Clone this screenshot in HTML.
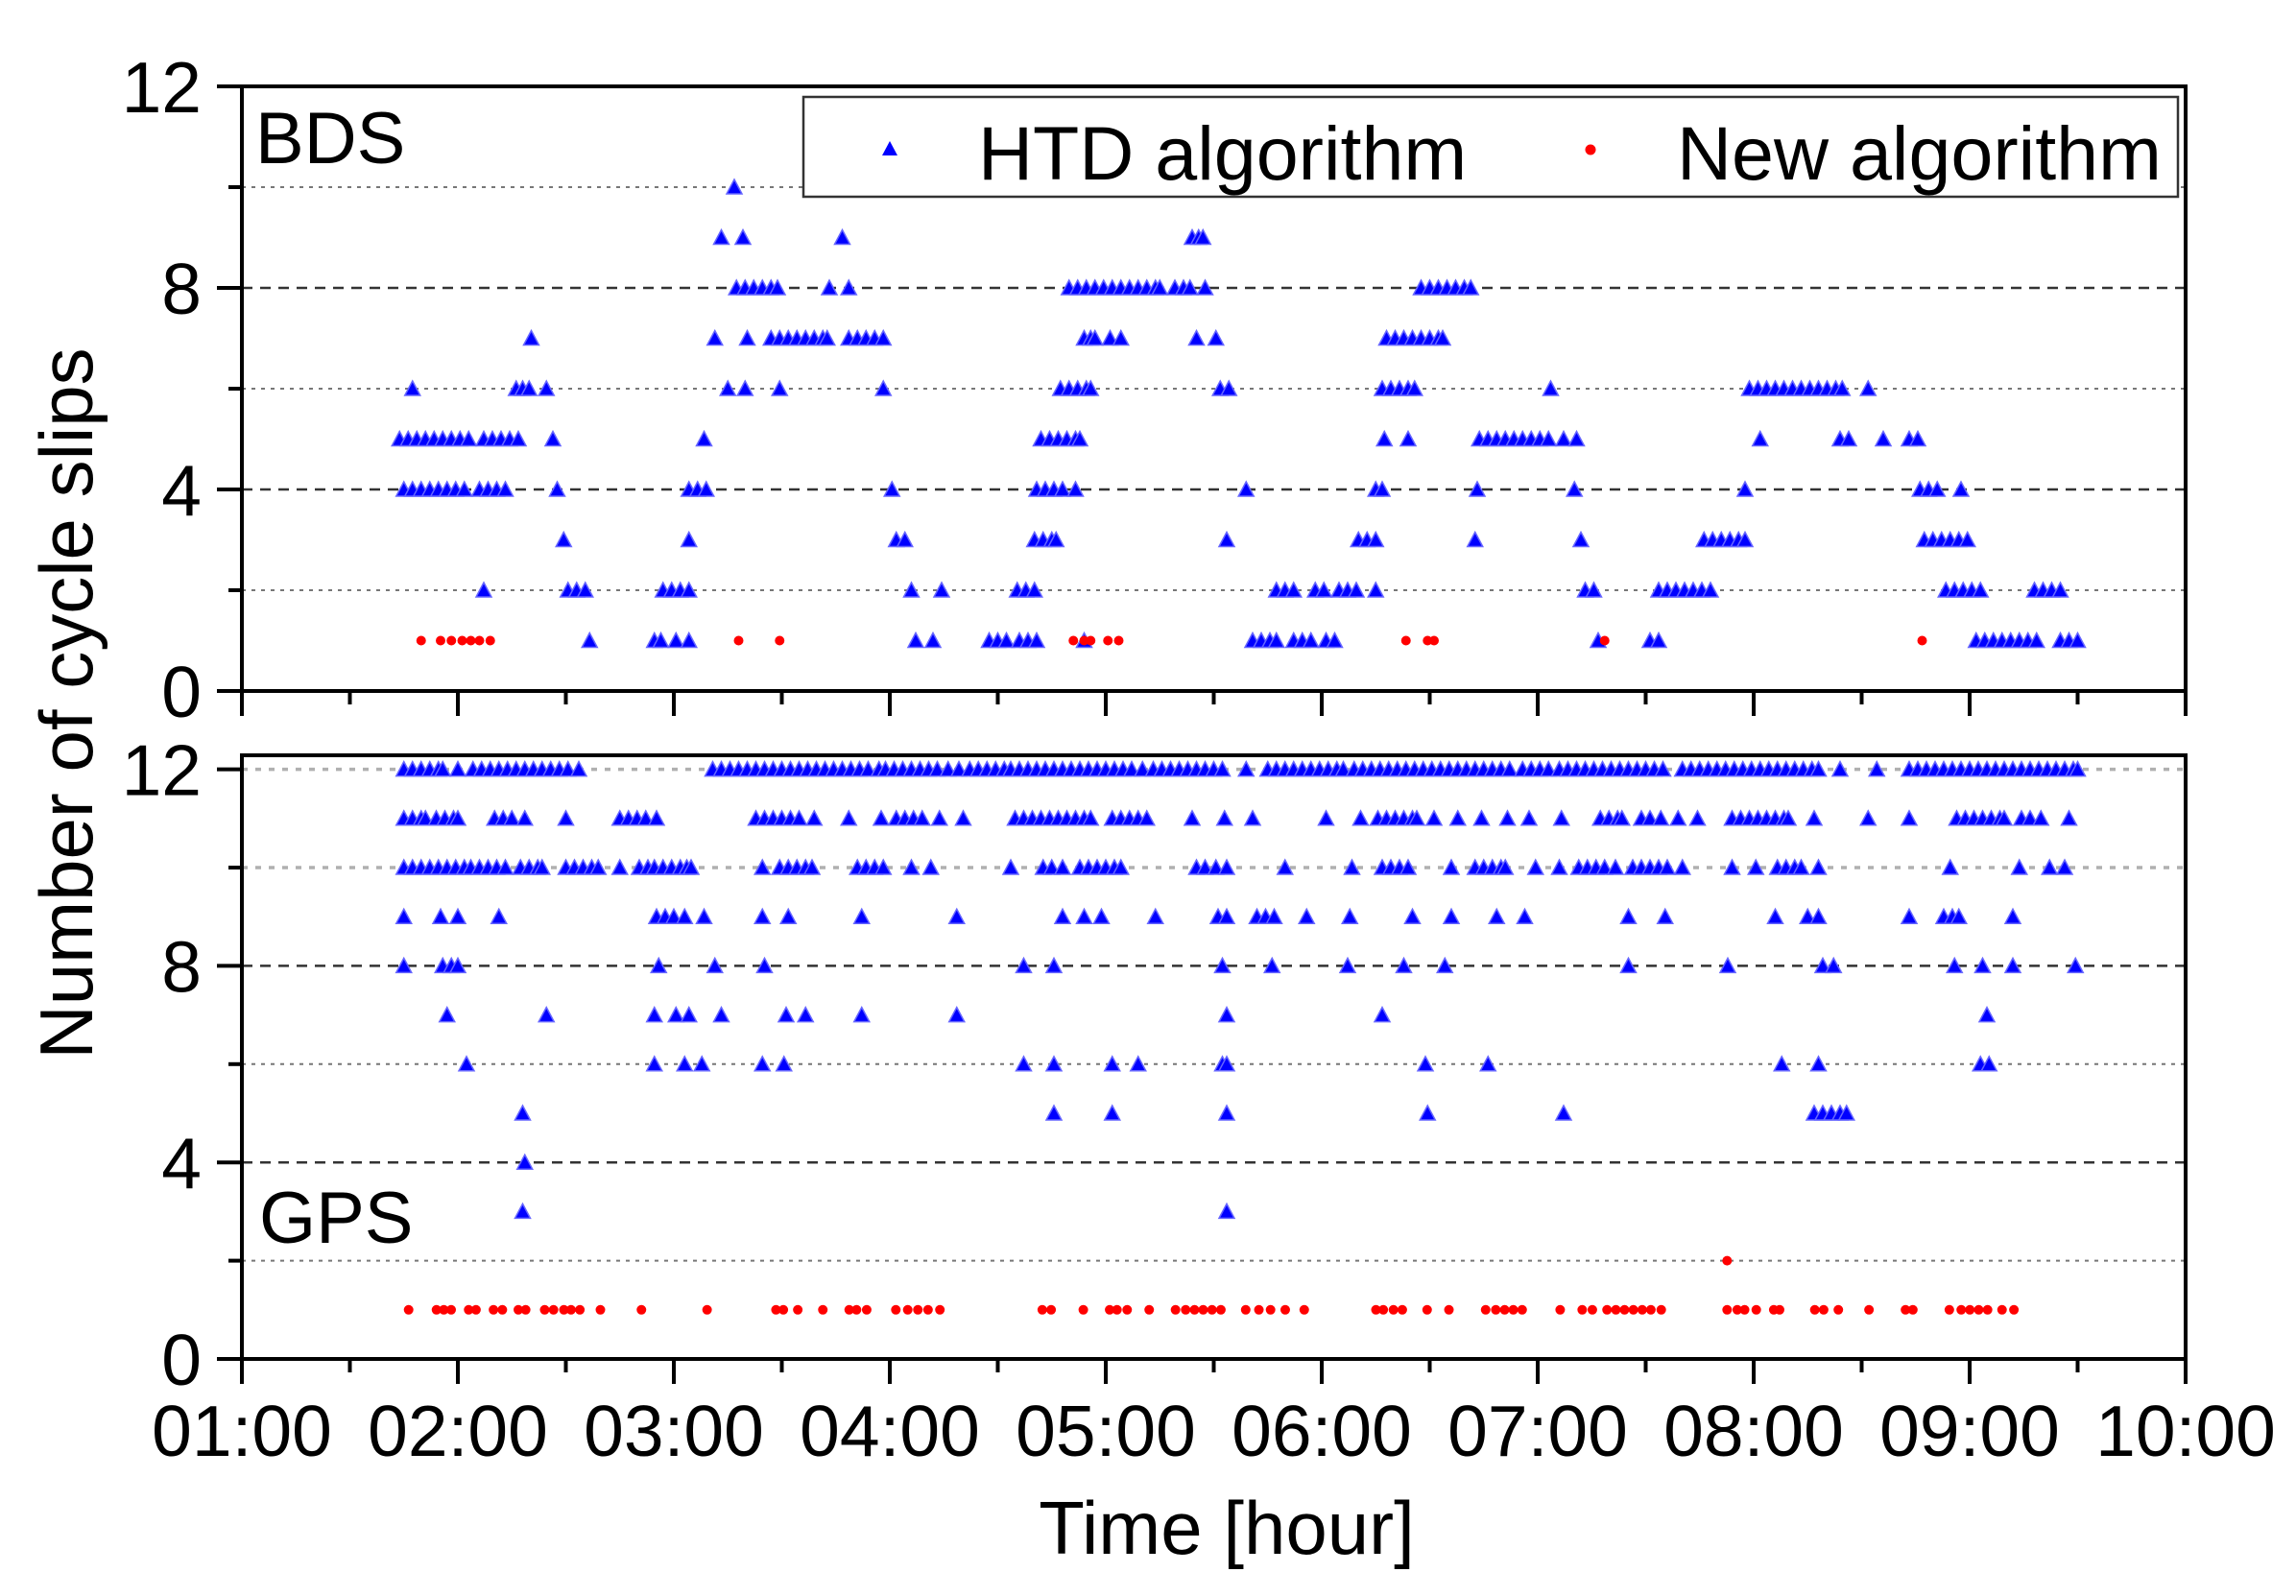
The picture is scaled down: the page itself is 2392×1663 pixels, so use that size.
<!DOCTYPE html>
<html><head><meta charset="utf-8"><style>
html,body{margin:0;padding:0;background:#fff;}
svg{display:block;font-family:"Liberation Sans",Arial,sans-serif;}
</style></head><body>
<svg id="chart" width="2392" height="1663" viewBox="0 0 2392 1663" xmlns="http://www.w3.org/2000/svg">
<g id="grid"></g><g id="marks"></g><g id="axes"></g><g id="labels"></g>
</svg>
<script>
// ---------- data ----------
const xTickLabels = ["01:00","02:00","03:00","04:00","05:00","06:00","07:00","08:00","09:00","10:00"];
const yTickLabels = ["0","4","8","12"];

const bdsHtdLevels = [10,9,8,7,6,5,4,3,2,1];
const bdsHtdTimes = [
 [3.28],
 [3.22,3.32,3.78,5.40,5.43,5.45],
 [3.29,3.33,3.37,3.41,3.45,3.48,3.72,3.81,4.83,4.87,4.91,4.95,4.99,5.03,5.07,5.11,5.15,5.19,5.23,5.25,5.32,5.36,5.39,5.46,6.46,6.50,6.54,6.58,6.62,6.66,6.69],
 [2.34,3.19,3.34,3.45,3.49,3.53,3.57,3.61,3.65,3.69,3.71,3.81,3.85,3.89,3.93,3.97,4.90,4.93,4.95,5.02,5.07,5.42,5.51,6.30,6.34,6.38,6.42,6.46,6.50,6.54,6.56],
 [1.79,2.27,2.30,2.33,2.41,3.25,3.33,3.49,3.97,4.79,4.83,4.87,4.91,4.93,5.53,5.57,6.28,6.32,6.36,6.40,6.43,7.06,7.98,8.02,8.06,8.10,8.14,8.18,8.22,8.26,8.30,8.34,8.38,8.41,8.53],
 [1.73,1.77,1.81,1.85,1.89,1.93,1.97,2.01,2.05,2.12,2.16,2.20,2.24,2.28,2.44,3.14,4.70,4.74,4.78,4.82,4.86,4.88,6.29,6.40,6.73,6.77,6.81,6.85,6.89,6.93,6.97,7.01,7.05,7.12,7.18,8.03,8.40,8.44,8.60,8.72,8.76],
 [1.75,1.79,1.83,1.87,1.91,1.95,1.99,2.03,2.10,2.14,2.18,2.22,2.46,3.07,3.11,3.15,4.01,4.68,4.72,4.76,4.80,4.86,5.65,6.25,6.28,6.72,7.17,7.96,8.77,8.81,8.85,8.96],
 [2.49,3.07,4.03,4.07,4.67,4.71,4.75,4.77,5.56,6.17,6.21,6.25,6.71,7.20,7.77,7.81,7.85,7.89,7.93,7.96,8.79,8.83,8.87,8.91,8.95,8.99],
 [2.12,2.51,2.55,2.59,2.95,2.99,3.03,3.07,4.10,4.24,4.59,4.63,4.67,5.79,5.83,5.87,5.97,6.01,6.08,6.12,6.16,6.25,7.22,7.26,7.56,7.60,7.64,7.68,7.72,7.76,7.80,8.89,8.93,8.97,9.01,9.05,9.30,9.34,9.38,9.42],
 [2.61,2.91,2.94,3.01,3.07,4.12,4.20,4.46,4.50,4.54,4.60,4.64,4.68,4.90,5.68,5.72,5.76,5.79,5.87,5.91,5.95,6.02,6.06,7.28,7.52,7.56,9.03,9.07,9.11,9.15,9.19,9.23,9.27,9.31,9.42,9.46,9.50]
];
const bdsNewTimes = [1.83,1.92,1.97,2.02,2.06,2.10,2.15,3.30,3.49,4.85,4.90,4.93,5.01,5.06,6.39,6.49,6.52,7.31,8.78];
const bdsNewValues = [1,1,1,1,1,1,1,1,1,1,1,1,1,1,1,1,1,1,1];

const gpsHtdLevels = [12,11,10,9,8,7,6,5,4,3];
const gpsHtdTimes = [
 [1.75,1.79,1.83,1.87,1.91,1.93,2.00,2.07,2.11,2.15,2.19,2.23,2.27,2.31,2.35,2.39,2.43,2.47,2.51,2.56,3.18,3.22,3.26,3.30,3.34,3.38,3.42,3.46,3.50,3.54,3.58,3.62,3.66,3.70,3.74,3.78,3.82,3.86,3.90,3.95,3.98,4.02,4.06,4.10,4.14,4.18,4.22,4.27,4.32,4.37,4.41,4.45,4.49,4.53,4.56,4.60,4.64,4.68,4.72,4.76,4.80,4.84,4.88,4.92,4.96,5.00,5.04,5.08,5.12,5.17,5.22,5.26,5.30,5.34,5.38,5.42,5.46,5.50,5.54,5.65,5.75,5.79,5.83,5.87,5.91,5.95,5.99,6.03,6.07,6.10,6.15,6.19,6.23,6.27,6.31,6.35,6.39,6.43,6.47,6.51,6.55,6.59,6.63,6.67,6.71,6.75,6.79,6.83,6.87,6.93,6.97,7.01,7.05,7.10,7.14,7.18,7.22,7.26,7.30,7.34,7.38,7.42,7.46,7.50,7.54,7.58,7.67,7.71,7.75,7.79,7.83,7.87,7.91,7.95,7.99,8.03,8.07,8.11,8.15,8.19,8.23,8.27,8.30,8.40,8.57,8.72,8.76,8.80,8.84,8.88,8.92,8.96,9.00,9.04,9.08,9.12,9.16,9.20,9.24,9.28,9.32,9.36,9.40,9.44,9.48,9.50],
 [1.75,1.79,1.83,1.85,1.90,1.94,1.98,2.00,2.17,2.21,2.25,2.31,2.50,2.75,2.79,2.83,2.87,2.92,3.38,3.42,3.46,3.50,3.54,3.58,3.65,3.81,3.96,4.03,4.07,4.11,4.15,4.23,4.34,4.58,4.62,4.66,4.70,4.74,4.78,4.82,4.86,4.90,4.93,5.03,5.07,5.11,5.15,5.19,5.40,5.55,5.68,6.02,6.18,6.26,6.30,6.34,6.38,6.42,6.44,6.52,6.63,6.74,6.86,6.96,7.11,7.29,7.33,7.37,7.39,7.48,7.52,7.57,7.65,7.74,7.90,7.94,7.98,8.02,8.06,8.10,8.14,8.16,8.28,8.53,8.72,8.94,8.98,9.02,9.06,9.10,9.14,9.16,9.24,9.28,9.33,9.46],
 [1.75,1.79,1.83,1.87,1.91,1.95,1.99,2.03,2.06,2.10,2.14,2.18,2.22,2.29,2.33,2.37,2.39,2.50,2.54,2.58,2.62,2.65,2.75,2.84,2.88,2.91,2.95,2.99,3.03,3.06,3.08,3.41,3.49,3.53,3.57,3.61,3.64,3.85,3.89,3.93,3.97,4.10,4.19,4.56,4.71,4.75,4.80,4.88,4.92,4.96,5.00,5.04,5.07,5.42,5.46,5.51,5.56,5.83,6.14,6.28,6.32,6.36,6.40,6.60,6.71,6.75,6.79,6.83,6.85,6.99,7.10,7.19,7.23,7.27,7.31,7.36,7.44,7.48,7.52,7.56,7.60,7.67,7.90,8.01,8.11,8.15,8.19,8.22,8.30,8.91,9.23,9.37,9.44],
 [1.75,1.92,2.00,2.19,2.92,2.96,3.00,3.05,3.14,3.41,3.53,3.87,4.31,4.80,4.90,4.98,5.23,5.52,5.56,5.70,5.74,5.78,5.93,6.13,6.42,6.60,6.81,6.94,7.42,7.59,8.10,8.25,8.30,8.72,8.88,8.92,8.95,9.20],
 [1.75,1.93,1.97,2.00,2.93,3.19,3.42,4.62,4.76,5.54,5.77,6.12,6.38,6.57,7.42,7.88,8.32,8.37,8.93,9.06,9.20,9.49],
 [1.95,2.41,2.91,3.01,3.07,3.22,3.52,3.61,3.87,4.31,5.56,6.28,9.08],
 [2.04,2.91,3.05,3.13,3.41,3.51,4.62,4.76,5.03,5.15,5.54,5.56,6.48,6.77,8.13,8.30,9.05,9.09],
 [2.30,4.76,5.03,5.56,6.49,7.12,8.28,8.32,8.36,8.40,8.43],
 [2.31],
 [2.30,5.56]
];
const gpsNewTimes = [1.772,1.901,1.935,1.969,2.050,2.084,2.165,2.206,2.280,2.314,2.402,2.443,2.491,2.524,2.565,2.660,2.850,3.154,3.473,3.507,3.574,3.690,3.812,3.846,3.893,4.028,4.083,4.130,4.177,4.232,4.706,4.747,4.896,5.018,5.052,5.099,5.201,5.323,5.370,5.411,5.451,5.492,5.533,5.648,5.709,5.763,5.831,5.919,6.251,6.285,6.332,6.373,6.488,6.589,6.759,6.806,6.847,6.887,6.928,7.104,7.206,7.253,7.321,7.362,7.402,7.443,7.484,7.524,7.572,7.877,7.877,7.924,7.958,8.012,8.093,8.120,8.283,8.324,8.392,8.534,8.703,8.737,8.906,8.961,9.001,9.042,9.083,9.150,9.205];
const gpsNewValues = [1,1,1,1,1,1,1,1,1,1,1,1,1,1,1,1,1,1,1,1,1,1,1,1,1,1,1,1,1,1,1,1,1,1,1,1,1,1,1,1,1,1,1,1,1,1,1,1,1,1,1,1,1,1,1,1,1,1,1,1,1,1,1,1,1,1,1,1,1,1,2,1,1,1,1,1,1,1,1,1,1,1,1,1,1,1,1,1,1];

// ---------- layout ----------
const NS = "http://www.w3.org/2000/svg";
const L = 252, R = 2277;
const X = h => L + (h - 1) * (R - L) / 9;
const panels = {
  top: {y0: 720, y12: 90, frameTop: 90},
  bot: {y0: 1416, y12: 801.6, frameTop: 787}
};
const Y = (p, v) => p.y0 - v * (p.y0 - p.y12) / 12;
const gGrid = document.getElementById('grid');
const gMarks = document.getElementById('marks');
const gAxes = document.getElementById('axes');
const gLab = document.getElementById('labels');
function mk(tag, attrs, parent) {
  const e = document.createElementNS(NS, tag);
  for (const k in attrs) e.setAttribute(k, attrs[k]);
  parent.appendChild(e);
  return e;
}

function gridLine(p, v, kind, name) {
  const y = Y(p, v);
  let st = kind === 'dash' ? {stroke:'#333', 'stroke-width':2.5, 'stroke-dasharray':'11 8'}
         : kind === 'light' ? {stroke:'#b0b0b0', 'stroke-width':3.5, 'stroke-dasharray':'6 8'}
         : {stroke:'#777', 'stroke-width':2, 'stroke-dasharray':'4 6'};
  const e = mk('line', Object.assign({x1:L, x2:R, y1:y, y2:y}, st), gGrid);
  
  
}
[2,6,10].forEach(v => gridLine(panels.top, v, 'dot', 'bds-gridline-' + v));
[4,8].forEach(v => gridLine(panels.top, v, 'dash', 'bds-gridline-' + v));
[2,6].forEach(v => gridLine(panels.bot, v, 'dot', 'gps-gridline-' + v));
[10,12].forEach(v => gridLine(panels.bot, v, 'light', 'gps-gridline-' + v));
[4,8].forEach(v => gridLine(panels.bot, v, 'dash', 'gps-gridline-' + v));

function tri(p, t, v, name) {
  const x = X(t), y = Y(p, v);
  const e = mk('polygon', {points: `${x-8},${y+7} ${x+8},${y+7} ${x},${y-8}`, fill:'#0000ff', stroke:'#6666ff', 'stroke-width':1.5}, gMarks);
  
  
}
function dot(p, t, v, name) {
  const e = mk('circle', {cx: X(t), cy: Y(p, v), r: 5, fill:'#ff0000'}, gMarks);
  
  
}
bdsHtdLevels.forEach((lv, i) => bdsHtdTimes[i].forEach(t => tri(panels.top, t, lv, 'bds-htd-point')));
bdsNewTimes.forEach((t, i) => dot(panels.top, t, bdsNewValues[i], 'bds-new-point'));
gpsHtdLevels.forEach((lv, i) => gpsHtdTimes[i].forEach(t => tri(panels.bot, t, lv, 'gps-htd-point')));
gpsNewTimes.forEach((t, i) => dot(panels.bot, t, gpsNewValues[i], 'gps-new-point'));

// frames and ticks
function frame(p, name) {
  const e = mk('path', {d:`M${L},${p.frameTop} H${R} V${p.y0} H${L} Z`, fill:'none', stroke:'#000', 'stroke-width':4}, gAxes);
  
  
  for (let k = 0; k <= 18; k++) {
    const x = L + k * (R - L) / 18;
    const len = k % 2 === 0 ? 26 : 14;
    const t = mk('line', {x1:x, x2:x, y1:p.y0, y2:p.y0 + len, stroke:'#000', 'stroke-width':4}, gAxes);
    
    
  }
  for (let v = 0; v <= 12; v += 2) {
    const y = Y(p, v);
    const len = v % 4 === 0 ? 26 : 14;
    const t = mk('line', {x1:L - len, x2:L, y1:y, y2:y, stroke:'#000', 'stroke-width':4}, gAxes);
    
    
  }
  yTickLabels.forEach(s => {
    const tx = mk('text', {x:210, y:Y(p, +s) + 27, 'font-size':75, 'text-anchor':'end'}, gLab);
    tx.textContent = s;
    
    
  });
}
frame(panels.top, 'bds-panel-frame');
frame(panels.bot, 'gps-panel-frame');

xTickLabels.forEach((s, i) => {
  const tx = mk('text', {x: X(i + 1), y: 1517, 'font-size':75, 'text-anchor':'middle'}, gLab);
  tx.textContent = s;
  
  
});
</script>
<svg style="position:absolute;left:0;top:0" width="2392" height="1663" viewBox="0 0 2392 1663" xmlns="http://www.w3.org/2000/svg" font-family="Liberation Sans, Arial, sans-serif">
  <text x="266" y="170" font-size="76">BDS</text>
  <text x="270" y="1295" font-size="76">GPS</text>
  <g>
    <rect x="837" y="101" width="1432" height="104" fill="#fff" stroke="#333" stroke-width="2.5"/>
    <polygon points="919,162 935,162 927,147" fill="#0000ff"/>
    <text x="1019" y="187" font-size="79">HTD algorithm</text>
    <circle cx="1657" cy="156" r="5.5" fill="#ff0000"/>
    <text x="1747" y="187" font-size="79">New algorithm</text>
  </g>
  <text transform="translate(96,733) rotate(-90)" text-anchor="middle" font-size="78">Number of cycle slips</text>
  <text x="1278" y="1619" text-anchor="middle" font-size="78">Time [hour]</text>
</svg>
</body></html>
